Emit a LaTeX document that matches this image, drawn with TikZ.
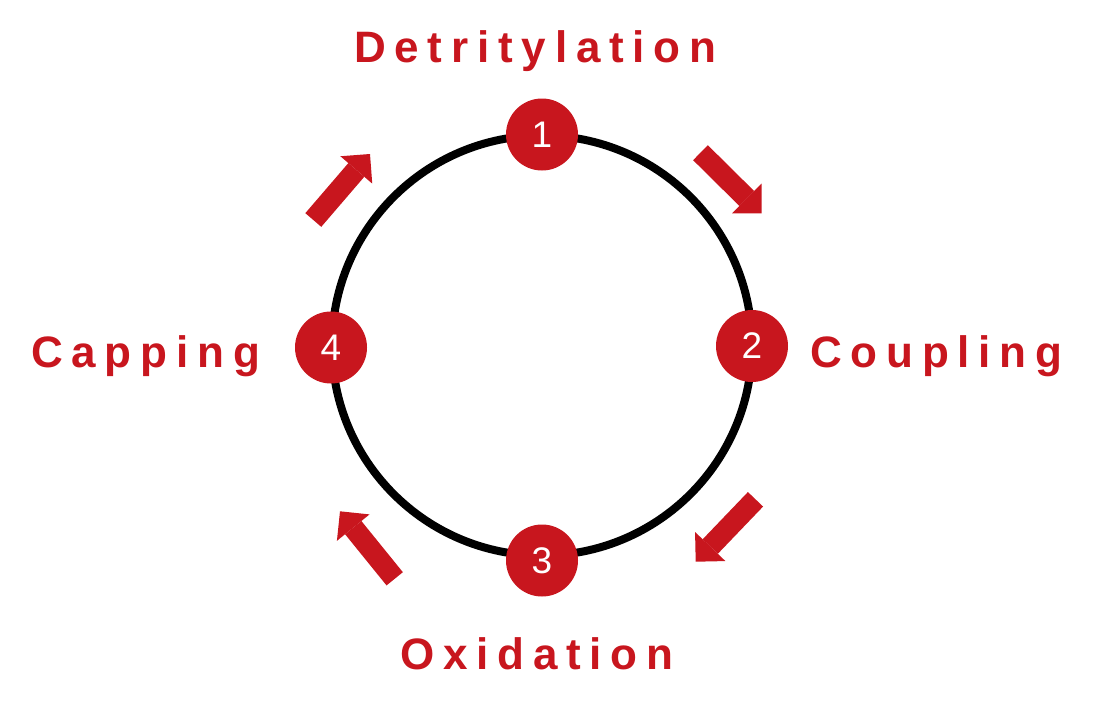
\documentclass[tikz,border=0pt]{standalone}
\usepackage{fontspec}
\setmainfont{Liberation Sans}
\newfontfamily\lblfont[LetterSpace=20]{Liberation Sans}
\usetikzlibrary{arrows.meta}
\definecolor{cred}{RGB}{200,22,30}
\tikzset{
  num/.style={circle, fill=cred, minimum size=72pt, inner sep=0pt, text=white,
    font=\fontsize{37}{37}\selectfont},
  lbl/.style={anchor=base west, inner sep=0pt, text=cred,
    font=\lblfont\bfseries\fontsize{44}{44}\selectfont},
  blk/.style={draw=cred, line width=21pt,
    -{Triangle[length=21pt,width=42pt,line width=0pt]}},
  ring/.style={draw=black, line width=8pt}
}
\begin{document}
\begin{tikzpicture}[x=1pt,y=-1pt]
\useasboundingbox (0,0) rectangle (1104,712);
\coordinate (c) at (542,345.5);
\draw[ring] (c) circle[radius=210];
\node[num] (n1) at (542,134.5) {1};
\node[num] (n2) at (752,346) {2};
\node[num] (n3) at (542,560.5) {3};
\node[num] (n4) at (331,347.5) {4};
\node[lbl] (l1) at (354,62) {Detritylation};
\node[lbl] (l2) at (810,367) {Coupling};
\node[lbl] (l3) at (400,669) {Oxidation};
\node[lbl] (l4) at (31,367) {Capping};
\coordinate (a1s) at (700.5,152.7); \coordinate (a1e) at (761.7,213.3);
\coordinate (a2s) at (755.5,499.3); \coordinate (a2e) at (695.7,561.7);
\coordinate (a3s) at (394.7,578.8); \coordinate (a3e) at (340,511.3);
\coordinate (a4s) at (313.3,220);   \coordinate (a4e) at (370,154);
\draw[blk] (a1s) -- (a1e);
\draw[blk] (a2s) -- (a2e);
\draw[blk] (a3s) -- (a3e);
\draw[blk] (a4s) -- (a4e);
\end{tikzpicture}
\end{document}
